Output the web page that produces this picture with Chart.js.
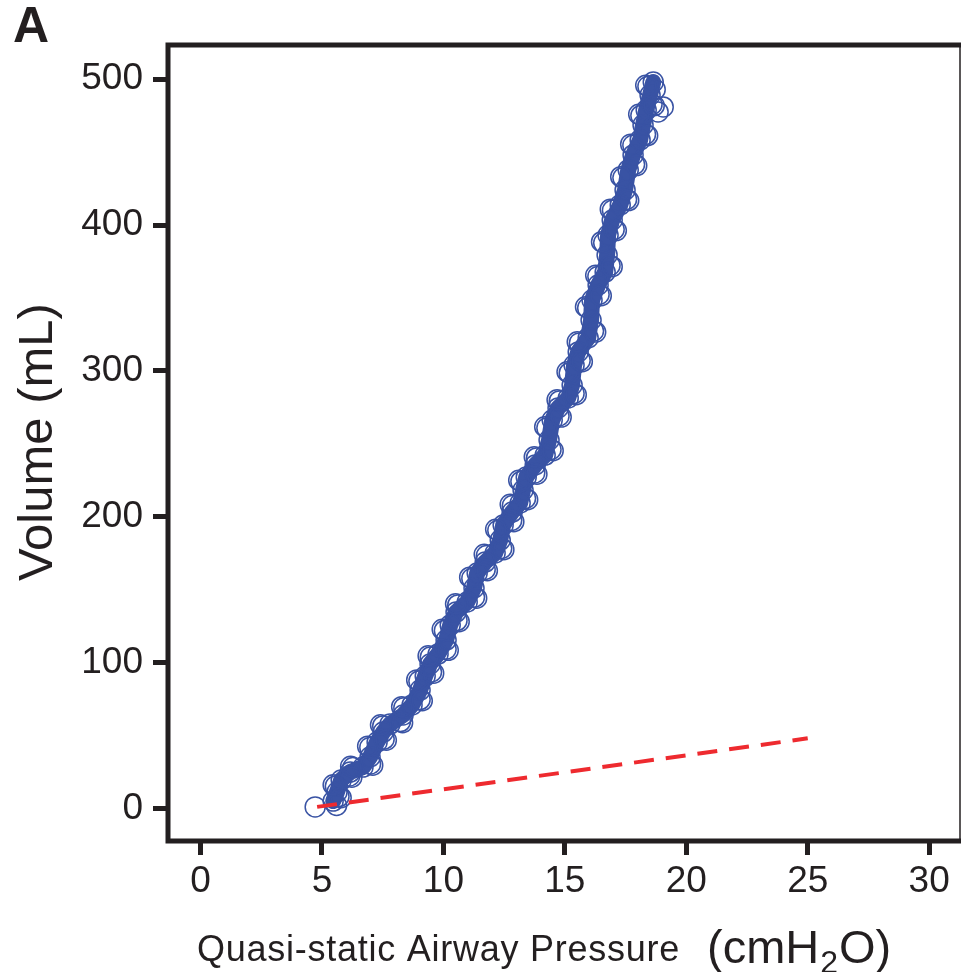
<!DOCTYPE html>
<html>
<head>
<meta charset="utf-8">
<script src="https://cdn.jsdelivr.net/npm/chart.js@4.4.1/dist/chart.umd.min.js"></script>
<style>
html,body{margin:0;padding:0;background:#fff;}
canvas{display:block;}
</style>
</head>
<body>
<canvas id="c" width="961" height="972"></canvas>
<script>
// Measured quasi-static P-V curve (blue circles): centre of the band
const pressure = [4.72,5.46,5.62,5.79,6.16,6.69,6.98,7.27,7.52,7.80,8.34,8.71,9.04,9.25,9.45,9.78,10.11,10.28,10.52,10.98,11.26,11.39,11.72,12.13,12.34,12.46,12.83,13.16,13.28,13.41,13.78,14.19,14.35,14.48,14.72,15.14,15.30,15.38,15.55,15.96,16.08,16.12,16.37,16.66,16.74,16.78,16.95,17.28,17.48,17.61,17.81,18.10,18.22,18.35,18.51,18.64];
const volume = [1,5,11.2,19.4,24.9,28.3,35.2,45.5,52.3,57.8,64.0,70.9,81.1,90.7,99.0,105.8,115.4,125.7,134.6,141.5,151.1,161.4,168.9,175.1,184.0,194.3,203.2,209.4,218.3,227.2,235.5,242.3,252.6,266.3,274.6,281.4,290.3,304.0,313.0,322.6,334.9,348.6,358.9,367.8,379.5,393.2,403.5,413.8,424.1,437.8,448.1,458.4,468.7,478.9,489.2,498.1];
// Scattered circles at the edges of the band and at the top end (inner ring)
const edgePressure = [18.72,19.05,18.84,5.60,5.70,5.55,6.14,6.27,7.00,6.97,7.56,7.50,8.23,8.37,9.04,8.99,9.51,9.46,10.11,10.04,10.56,10.59,11.28,11.17,11.72,11.77,12.40,12.24,12.81,12.84,13.38,13.19,13.76,13.83,14.43,14.26,14.76,14.77,15.38,15.18,15.63,15.60,16.18,15.94,16.41,16.36,16.86,16.60,17.03,16.96,17.54,17.39,17.87,17.80,18.32,18.13,18.59,18.42];
const edgeVolume = [493,481,477.6,2,8.1,15.3,22.2,28.0,30.4,41.8,47.5,56.5,59.5,68.9,74.6,87.3,93.5,103.8,109.2,122.0,128.8,139.5,144.9,157.7,163.8,173.4,178.2,190.6,197.4,207.7,212.5,224.2,230.0,240.3,246.1,260.9,269.1,279.4,284.5,298.6,307.1,319.2,327.4,343.2,352.4,364.8,372.3,387.8,397.0,410.1,417.6,432.4,441.6,454.7,462.2,475.2,482.7,495.1];
// Outer circles of the wiggling band
const outerPressure = [5.79,5.46,6.23,6.18,7.09,6.88,7.65,7.41,8.32,8.28,9.13,8.90,9.60,9.37,10.20,9.95,10.65,10.50,11.37,11.08,11.81,11.68,12.49,12.15,12.90,12.75,13.47,13.10,13.85,13.74,14.52,14.17,14.85,14.68,15.47,15.09,15.72,15.51,16.27,15.85,16.50,16.27,16.95,16.51,17.12,16.87,17.63,17.30,17.96,17.71,18.41,18.04,18.68,18.33];
const outerVolume = [7.3,16.1,21.4,28.8,29.6,42.6,46.7,57.3,58.7,69.7,73.8,88.1,92.7,104.6,108.4,122.8,128.0,140.3,144.1,158.5,163.0,174.2,177.4,191.4,196.6,208.5,211.7,225.0,229.2,241.1,245.3,261.7,268.3,280.2,283.7,299.4,306.3,320.0,326.6,344.0,351.6,365.6,371.5,388.6,396.2,410.9,416.8,433.2,440.8,455.5,461.4,476.0,481.9,495.9];
// Red dashed reference line
const linePressure = [4.8, 25];
const lineVolume = [1, 48];
// Axis ticks
const xTicks = [0,5,10,15,20,25,30];
const yTicks = [0,100,200,300,400,500];

const INK = '#231f20';
const BLUE = '#3953a4';
const RED = '#ee2a2f';
const FONT = '"Liberation Sans", Arial, Helvetica, sans-serif';

const lastMain = pressure.length - 1;
const curve = pressure.map((p,i)=>({x:p, y:volume[i]}))
  .concat(edgePressure.map((p,i)=>({x:p, y:edgeVolume[i]})))
  .concat(outerPressure.map((p,i)=>({x:p, y:outerVolume[i]})));
const redLine = linePressure.map((p,i)=>({x:p, y:lineVolume[i]}));

function drawFitted(ctx, text, x, y, font, width){
  ctx.font = font;
  ctx.letterSpacing = '0px';
  const w = ctx.measureText(text).width;
  const n = text.length;
  if (width && n > 1) ctx.letterSpacing = ((width - w) / n) + 'px';
  ctx.fillText(text, x, y);
  ctx.letterSpacing = '0px';
}

const decor = {
  id: 'decor',
  afterDraw(chart){
    const {ctx, chartArea:a} = chart;
    ctx.save();
    ctx.strokeStyle = INK;
    ctx.lineCap = 'butt';
    ctx.lineWidth = 5;
    ctx.beginPath();
    ctx.moveTo(a.left, a.top - 2.5); ctx.lineTo(a.left, a.bottom + 2.5);
    ctx.moveTo(a.left - 2.5, a.bottom); ctx.lineTo(a.right + 1, a.bottom);
    ctx.moveTo(a.left - 2.5, a.top); ctx.lineTo(a.right + 1, a.top);
    ctx.stroke();
    ctx.lineWidth = 1.5;
    ctx.beginPath();
    ctx.moveTo(a.right, a.top); ctx.lineTo(a.right, a.bottom);
    ctx.stroke();

    ctx.fillStyle = INK;
    ctx.textBaseline = 'alphabetic';
    ctx.textAlign = 'left';
    ctx.font = 'bold 50px ' + FONT;
    ctx.fillText('A', 13, 42);
    ctx.save();
    ctx.translate(52, 442);
    ctx.rotate(-Math.PI/2);
    ctx.textAlign = 'center';
    ctx.font = '49px ' + FONT;
    ctx.fillText('Volume (mL)', 0, 0);
    ctx.restore();
    ctx.textAlign = 'left';
    drawFitted(ctx, 'Quasi-static Airway Pressure', 197, 961, '36px ' + FONT, 483);
    ctx.font = '47px ' + FONT;
    let x = 707;
    ctx.fillText('(cmH', x, 963);
    x += ctx.measureText('(cmH').width;
    ctx.font = '32px ' + FONT;
    ctx.fillText('2', x + 1, 973);
    x += ctx.measureText('2').width + 2;
    ctx.font = '47px ' + FONT;
    ctx.fillText('O)', x, 963);
    ctx.restore();
  }
};

new Chart(document.getElementById('c'), {
  data: {
    datasets: [
      {
        type: 'scatter',
        data: redLine,
        showLine: true,
        borderColor: RED,
        borderWidth: 4,
        borderDash: [20, 12],
        pointRadius: 0,
        order: 0
      },
      {
        type: 'scatter',
        data: curve,
        showLine: true,
        borderColor: BLUE,
        borderWidth: 16,
        borderJoinStyle: 'round',
        borderCapStyle: 'round',
        segment: {
          borderColor: c => (c.p0DataIndex >= lastMain || c.p0DataIndex === 0) ? 'rgba(0,0,0,0)' : undefined
        },
        pointRadius: 10,
        pointBorderWidth: 1.5,
        pointBorderColor: BLUE,
        pointBackgroundColor: 'rgba(0,0,0,0)',
        order: 1
      }
    ]
  },
  options: {
    responsive: false,
    devicePixelRatio: 1,
    animation: false,
    events: [],
    layout: { autoPadding: false, padding: { top: 45, right: 1, left: 0, bottom: 0 } },
    plugins: { legend: { display: false }, tooltip: { enabled: false }, title: { display: false } },
    scales: {
      x: {
        type: 'linear',
        min: -1.34, max: 31.27,
        afterFit(s){ s.height = 131; s.paddingLeft = 0; s.paddingRight = 0; s.paddingTop = 0; s.paddingBottom = 0; },
        afterBuildTicks(s){ s.ticks = xTicks.map(v => ({value: v})); },
        border: { display: false },
        grid: { drawOnChartArea: false, drawTicks: true, tickLength: 14, tickWidth: 5, tickColor: INK, color: INK },
        ticks: { color: INK, font: { family: FONT, size: 37 }, padding: 5, maxRotation: 0, autoSkip: false }
      },
      y: {
        type: 'linear',
        min: -22.4, max: 523.5,
        afterFit(s){ s.width = 168; s.paddingLeft = 0; s.paddingRight = 0; s.paddingTop = 0; s.paddingBottom = 0; },
        afterBuildTicks(s){ s.ticks = yTicks.map(v => ({value: v})); },
        border: { display: false },
        grid: { drawOnChartArea: false, drawTicks: true, tickLength: 15, tickWidth: 5, tickColor: INK, color: INK },
        ticks: { color: INK, font: { family: FONT, size: 37 }, padding: 10, autoSkip: false }
      }
    }
  },
  plugins: [decor]
});
</script>
</body>
</html>
